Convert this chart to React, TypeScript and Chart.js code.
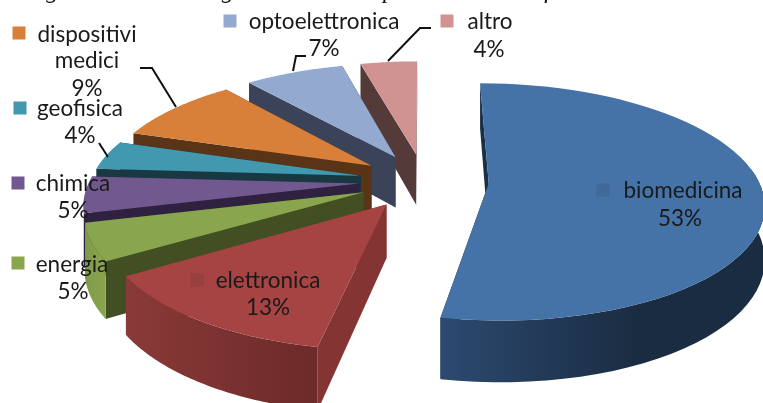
import React, { useEffect, useRef } from "react";
import { Chart, registerables } from "chart.js";

Chart.register(...registerables);

const categories = ["biomedicina", "elettronica", "energia", "chimica", "geofisica", "dispositivi medici", "optoelettronica", "altro"];
const shares = [53, 13, 5, 5, 4, 9, 7, 4];
const topColors = ["#4572A7", "#A54442", "#89A54E", "#71588F", "#4198AF", "#D8803A", "#93A9CF", "#D19392"];
const faceColors = ["#1B3048", "#853434", "#424F22", "#2E2240", "#183842", "#5A3416", "#3A4358", "#553A3A"];
const wallFrom = ["#2C4A70", "#8A3A38", "#7E9B48", "#5A4472", "#2E6E80", "#A86430", "#6E80A0", "#A07070"];
const wallTo = ["#1A2C42", "#6C2A28", "#8AA54E", "#4A3860", "#25586A", "#8A5228", "#5A6A86", "#805858"];

type Lbl = { lines: string[]; pct: string; sq: [number, number]; text: [number, number]; pctAt: [number, number] };

const sqAlpha = [0.1, 0.1, 1, 1, 1, 1, 1, 1];
const labelPos: Lbl[] = [
  { lines: ["biomedicina"], pct: "53%", sq: [603, 190], text: [683, 191], pctAt: [680, 219] },
  { lines: ["elettronica"], pct: "13%", sq: [197, 280], text: [268, 281], pctAt: [268, 308] },
  { lines: ["energia"], pct: "5%", sq: [18, 263], text: [72, 265], pctAt: [73, 292] },
  { lines: ["chimica"], pct: "5%", sq: [18, 183], text: [73, 184], pctAt: [73, 211] },
  { lines: ["geofisica"], pct: "4%", sq: [20, 108], text: [80, 109], pctAt: [80, 136] },
  { lines: ["dispositivi", "medici"], pct: "9%", sq: [19, 33], text: [87, 35], pctAt: [87, 89] },
  { lines: ["optoelettronica"], pct: "7%", sq: [230, 21], text: [324, 22], pctAt: [324, 49] },
  { lines: ["altro"], pct: "4%", sq: [447, 21], text: [490, 22], pctAt: [489, 50] },
];
const leaders: [number, number][][] = [
  [[293, 71], [296, 56], [306, 56]],
  [[388, 61], [420, 28], [431, 28]],
  [[176, 107], [152, 68], [140, 68]],
  [[108, 157], [99, 143]],
];

const CX = 424, CY = 181, R = 270, K = 0.426, D = 6.5, H = 52, EXPLODE = 0.24;

const TITLE = "Figura 2.1 – Analogie dei brevetti per settore di riferimento";

function project(u: number, w: number, z: number): [number, number] {
  const s = D / (D + w);
  return [CX + R * u * s, CY - R * K * w * s + H * z * s];
}

const pie3d = {
  id: "pie3d",
  beforeDatasetsDraw(chart: any) {
    const ctx: CanvasRenderingContext2D = chart.ctx;
    const arcs = chart.getDatasetMeta(0).data;
    const items = arcs.map((el: any, i: number) => {
      const a0 = el.startAngle + Math.PI / 2;
      const a1 = el.endAngle + Math.PI / 2;
      const m = (a0 + a1) / 2;
      return { i, a0, a1, ou: EXPLODE * Math.sin(m), ow: EXPLODE * Math.cos(m), m };
    });
    // back-to-front order
    items.sort((p: any, q: any) => q.ow - p.ow);
    for (const it of items) {
      const { i, a0, a1, ou, ow, m } = it;
      const pt = (a: number, z: number) => project(ou + Math.sin(a), ow + Math.cos(a), z);
      const tip = (z: number) => project(ou, ow, z);
      const poly = (pts: [number, number][], fill: string | CanvasGradient) => {
        ctx.beginPath();
        pts.forEach((p, n) => (n ? ctx.lineTo(p[0], p[1]) : ctx.moveTo(p[0], p[1])));
        ctx.closePath();
        ctx.fillStyle = fill;
        ctx.fill();
      };
      // radial faces
      poly([tip(0), pt(a0, 0), pt(a0, 1), tip(1)], faceColors[i]);
      poly([tip(0), pt(a1, 0), pt(a1, 1), tip(1)], faceColors[i]);
      // outer wall, only on slices turned to the viewer
      const n = 60;
      if (Math.cos(m) < -0.2 || Math.sin(m) > 0.9) {
        const wallTop: [number, number][] = [];
        const wallBot: [number, number][] = [];
        for (let k = 0; k <= n; k++) {
          const a = a0 + ((a1 - a0) * k) / n;
          if (Math.cos(a) < 0.15) {
            wallTop.push(pt(a, 0));
            wallBot.push(pt(a, 1));
          }
        }
        const xs = wallTop.map((p) => p[0]);
        const g = ctx.createLinearGradient(Math.min(...xs), 0, Math.max(...xs), 0);
        if (i === 0) {
          g.addColorStop(0, wallFrom[i]);
          g.addColorStop(0.6, wallTo[i]);
          g.addColorStop(1, wallTo[i]);
        } else {
          g.addColorStop(0, wallFrom[i]);
          g.addColorStop(1, wallTo[i]);
        }
        poly([...wallTop, ...wallBot.reverse()], g);
      }
      // top surface
      const top: [number, number][] = [tip(0)];
      for (let k = 0; k <= n; k++) top.push(pt(a0 + ((a1 - a0) * k) / n, 0));
      poly(top, topColors[i]);
    }
    return false;
  },
  afterDraw(chart: any) {
    const ctx: CanvasRenderingContext2D = chart.ctx;
    ctx.save();
    ctx.font = "italic 25px 'Liberation Serif'";
    ctx.fillStyle = "#111";
    ctx.textBaseline = "alphabetic";
    ctx.textAlign = "left";
    (ctx as any).wordSpacing = "2px";
    ctx.fillText(TITLE, 24, -2);
    (ctx as any).wordSpacing = "0px";
    ctx.strokeStyle = "#111";
    ctx.lineWidth = 2;
    for (const l of leaders) {
      ctx.beginPath();
      l.forEach((p, n) => (n ? ctx.lineTo(p[0], p[1]) : ctx.moveTo(p[0], p[1])));
      ctx.stroke();
    }
    ctx.font = "22.5px Lato";
    ctx.textAlign = "center";
    ctx.textBaseline = "middle";
    labelPos.forEach((l, i) => {
      ctx.globalAlpha = sqAlpha[i];
      ctx.fillStyle = i < 2 ? "#222" : topColors[i];
      ctx.fillRect(l.sq[0] - 6.5, l.sq[1] - 6.5, 13, 13);
      ctx.globalAlpha = 1;
      ctx.fillStyle = "#1a1a1a";
      l.lines.forEach((t, n) => ctx.fillText(t, l.text[0], l.text[1] + n * 26));
      ctx.fillText(l.pct, l.pctAt[0], l.pctAt[1]);
    });
    ctx.restore();
  },
};

export default function App() {
  const ref = useRef<HTMLCanvasElement>(null);
  useEffect(() => {
    const chart = new Chart(ref.current!, {
      type: "pie",
      data: { labels: categories, datasets: [{ data: shares, backgroundColor: topColors, borderWidth: 0 }] },
      options: {
        animation: false,
        responsive: false,
        devicePixelRatio: 1,
        layout: { padding: 0 },
        plugins: { legend: { display: false }, tooltip: { enabled: false } },
      },
      plugins: [pie3d],
    } as any);
    return () => chart.destroy();
  }, []);
  return (
    <canvas
      ref={ref}
      width={763}
      height={403}
      style={{ position: "fixed", left: 0, top: 0, width: 763, height: 403, background: "#fff", filter: "blur(0.6px)" }}
    />
  );
}
